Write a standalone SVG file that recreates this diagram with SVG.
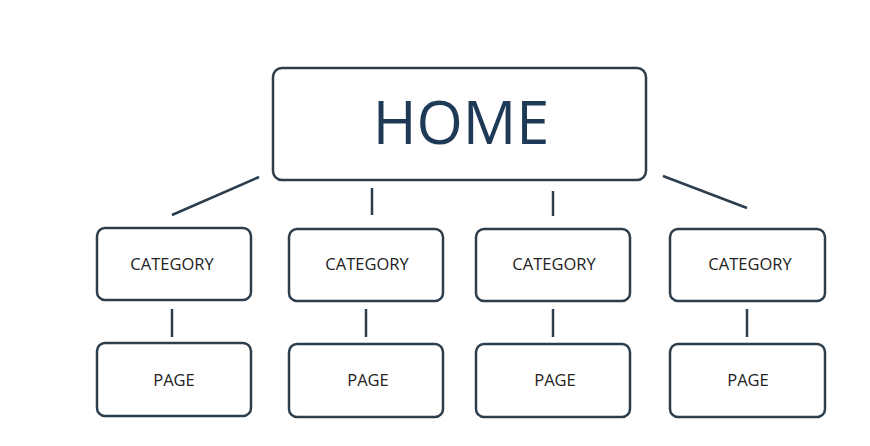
<svg xmlns="http://www.w3.org/2000/svg" width="870" height="446" viewBox="0 0 870 446">
<style>
.box{fill:#fff;stroke:#2c3d4c;stroke-width:2.5}
.ln{stroke:#2c3d4c;stroke-width:2.5;fill:none}
.lbl{font-family:"Open Sans","Noto Sans",sans-serif;font-size:16.5px;fill:#222;text-anchor:middle}
.home{font-family:"Open Sans","Noto Sans",sans-serif;font-size:59.5px;fill:#1f3a56;text-anchor:middle}
</style>
<rect width="870" height="446" fill="#fff"/>
<g id="connectors">
<line class="ln" x1="259" y1="177" x2="172" y2="215"/>
<line class="ln" x1="372" y1="188" x2="372" y2="215"/>
<line class="ln" x1="553" y1="191" x2="553" y2="216"/>
<line class="ln" x1="663" y1="176" x2="747" y2="208"/>
<line class="ln" x1="172" y1="309" x2="172" y2="337"/>
<line class="ln" x1="366" y1="309" x2="366" y2="337"/>
<line class="ln" x1="553" y1="309" x2="553" y2="337"/>
<line class="ln" x1="747" y1="309" x2="747" y2="337"/>
</g>
<g id="home">
<rect class="box" x="273" y="68" width="373" height="112" rx="9"/>
<text class="home" x="461" y="144">HOME</text>
</g>
<g id="cat1"><rect class="box" x="97" y="228" width="154" height="72" rx="8"/><text class="lbl" x="172" y="270">CATEGORY</text></g>
<g id="cat2"><rect class="box" x="289" y="229" width="154" height="72" rx="8"/><text class="lbl" x="367" y="270">CATEGORY</text></g>
<g id="cat3"><rect class="box" x="476" y="229" width="154" height="72" rx="8"/><text class="lbl" x="554" y="270">CATEGORY</text></g>
<g id="cat4"><rect class="box" x="670" y="229" width="155" height="72" rx="8"/><text class="lbl" x="750" y="270">CATEGORY</text></g>
<g id="page1"><rect class="box" x="97" y="343" width="154" height="73" rx="8"/><text class="lbl" x="174" y="386">PAGE</text></g>
<g id="page2"><rect class="box" x="289" y="344" width="154" height="73" rx="8"/><text class="lbl" x="368" y="386">PAGE</text></g>
<g id="page3"><rect class="box" x="476" y="344" width="154" height="73" rx="8"/><text class="lbl" x="555" y="386">PAGE</text></g>
<g id="page4"><rect class="box" x="670" y="344" width="155" height="73" rx="8"/><text class="lbl" x="748" y="386">PAGE</text></g>
</svg>
